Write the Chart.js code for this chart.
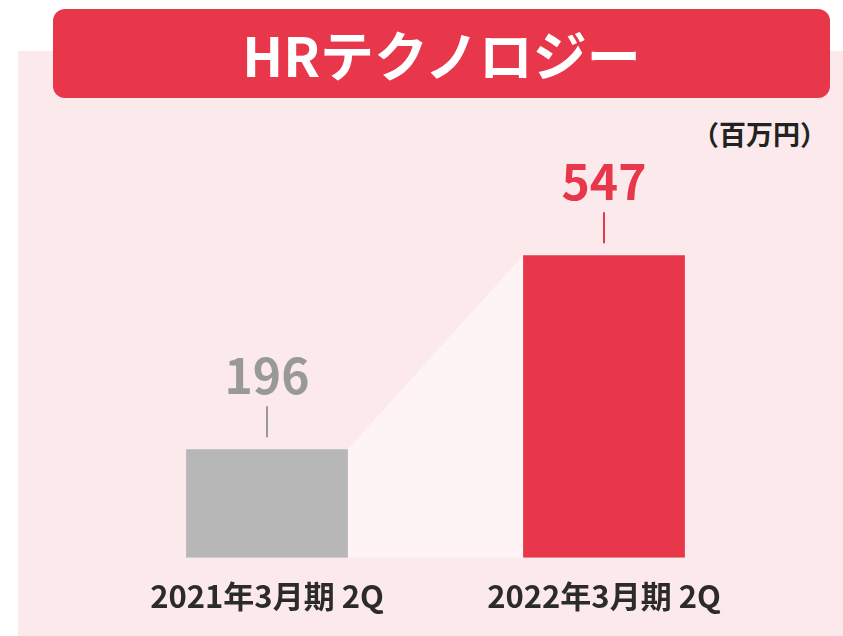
<!DOCTYPE html>
<html lang="ja">
<head>
<meta charset="utf-8">
<script src="https://cdn.jsdelivr.net/npm/chart.js@4"></script>
<style>
    html, body {
        margin: 0;
        padding: 0;
        background: #ffffff;
        width: 843px;
        height: 636px;
        overflow: hidden;
        font-family: "Noto Sans CJK JP", "Noto Sans", sans-serif;
    }
    .panel {
        position: absolute;
        left: 18px;
        top: 51px;
        right: 0;
        bottom: 0;
        background: #fbe9eb;
    }
    .title {
        position: absolute;
        left: 53px;
        top: 9px;
        width: 777px;
        height: 89px;
        border-radius: 12px;
        background: #e8364b;
        color: #ffffff;
        font-size: 54px;
        font-weight: 700;
        line-height: 89px;
        text-align: center;
    }
    .unit {
        position: absolute;
        right: 16px;
        top: 115px;
        font-size: 27px;
        line-height: 38px;
        font-weight: 700;
        color: #222222;
    }
    .wrap {
        position: absolute;
        left: 0;
        top: 0;
        width: 843px;
        height: 636px;
    }
</style>
</head>
<body>
<div class="panel"></div>
<div class="title">HRテクノロジー</div>
<div class="unit">（百万円）</div>
<div class="wrap"><canvas id="salesChart"></canvas></div>

<script>
// periods and sales (百万円)
const categories = ['2021年3月期 2Q', '2022年3月期 2Q'];
const values = [196, 547];
const yMin = 0;
const yMax = 700;

const barColors = ['#b7b7b7', '#e8364b'];
const labelColors = ['#999a97', '#e8364b'];

// light band joining the top of one bar to the next
const bridgePlugin = {
    id: 'bridge',
    beforeDatasetsDraw(chart) {
        const bars = chart.getDatasetMeta(0).data;
        if (bars.length < 2) return;
        const ctx = chart.ctx;
        const a = bars[0];
        const b = bars[1];
        ctx.save();
        ctx.fillStyle = '#fef4f5';
        ctx.beginPath();
        ctx.moveTo(a.x + a.width / 2, a.y);
        ctx.lineTo(b.x - b.width / 2, b.y);
        ctx.lineTo(b.x - b.width / 2, b.base);
        ctx.lineTo(a.x + a.width / 2, a.base);
        ctx.closePath();
        ctx.fill();
        ctx.restore();
    }
};

// value above each bar with a small tick line
const valueLabelPlugin = {
    id: 'valueLabels',
    afterDatasetsDraw(chart) {
        const ctx = chart.ctx;
        const bars = chart.getDatasetMeta(0).data;
        ctx.save();
        bars.forEach((bar, i) => {
            const color = labelColors[i];
            ctx.strokeStyle = color;
            ctx.lineWidth = 2;
            ctx.beginPath();
            ctx.moveTo(bar.x, bar.y - 43);
            ctx.lineTo(bar.x, bar.y - 12);
            ctx.stroke();

            ctx.fillStyle = color;
            ctx.font = '700 48px "Noto Sans CJK JP", "Noto Sans", sans-serif';
            ctx.textAlign = 'center';
            ctx.textBaseline = 'alphabetic';
            ctx.fillText(String(values[i]), bar.x, bar.y - 55);
        });
        ctx.restore();
    }
};

document.addEventListener('DOMContentLoaded', () => {
    const ctx = document.getElementById('salesChart').getContext('2d');

    new Chart(ctx, {
        type: 'bar',
        data: {
            labels: categories,
            datasets: [{
                data: values,
                backgroundColor: barColors,
                borderWidth: 0,
                barPercentage: 0.48,
                categoryPercentage: 1
            }]
        },
        options: {
            responsive: true,
            maintainAspectRatio: false,
            animation: false,
            layout: {
                padding: {
                    left: 98.5,
                    right: 70.5,
                    top: 170.5,
                    bottom: 1
                }
            },
            plugins: {
                legend: { display: false },
                tooltip: { enabled: false }
            },
            scales: {
                x: {
                    grid: { display: false, drawTicks: false },
                    border: { display: false },
                    ticks: {
                        padding: 20,
                        color: '#2b2b2b',
                        font: {
                            family: '"Noto Sans CJK JP", "Noto Sans", sans-serif',
                            size: 31,
                            weight: '700'
                        }
                    }
                },
                y: {
                    display: false,
                    min: yMin,
                    max: yMax
                }
            }
        },
        plugins: [bridgePlugin, valueLabelPlugin]
    });
});
</script>
</body>
</html>
